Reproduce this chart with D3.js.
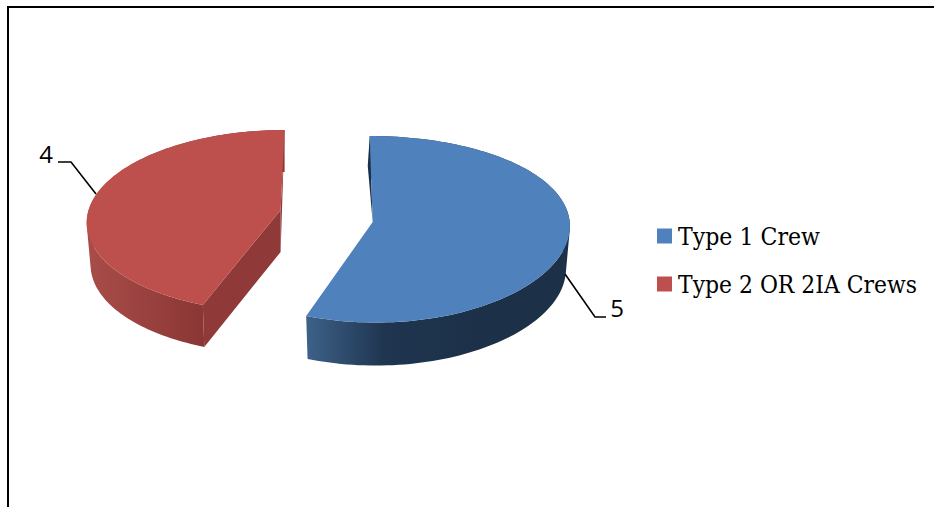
<!DOCTYPE html>
<html><head><meta charset="utf-8">
<script src="https://cdn.jsdelivr.net/npm/d3@7"></script>
<style>html,body{margin:0;padding:0;background:#fff}svg{display:block}</style>
</head><body><svg id="c" width="934" height="507"></svg>
<script>
const categories = ["Type 1 Crew", "Type 2 OR 2IA Crews"];
const values = [5, 4];
const colors = ["#4f81bd", "#bd4f4d"];

const layouts = [
  {cx:372.7, cy:222, rx:197, ry:92.7, k:0.078, kx:0.03, shear:3, depth:43,
   wallStops:[[0,"#3d6288"],[0.45,"#1f3550"],[1,"#1c3148"]], wallX:[306,480], cut:"#1c3148"},
  {cx:280.6, cy:210, rx:192, ry:89.6, k:0.12, kx:0.12, shear:-4, depth:42,
   wallStops:[[0,"#a84c49"],[1,"#8a3634"]], wallX:[90,205], cut:"#8f3a38"}
];
const bottomScale = 0.98;
const svg = d3.select("#c");
const defs = svg.append("defs");

// frame
svg.append("path").attr("d","M8,507V7H934").attr("fill","none").attr("stroke","#000").attr("stroke-width",2);

const arcs = d3.pie().value(d=>d).sort(null)(values);
const line = d3.line();

function project(L, a, r, bottom){
  const u = r*Math.sin(a), v = -r*Math.cos(a), s = 1/(1-L.k*v), sx = 1/(1-L.kx*v);
  const sc = bottom ? bottomScale : 1;
  return [L.cx + L.rx*u*sx*sc + L.shear*v, L.cy + L.ry*v*s + (bottom?L.depth:0)];
}

// draw red then blue
[1,0].forEach(i=>{
  const A = arcs[i], L = layouts[i];
  const as = d3.range(0,121).map(t=>A.startAngle+(A.endAngle-A.startAngle)*t/120);
  const top = as.map(a=>project(L,a,1,false));
  const bot = as.map(a=>project(L,a,1,true));
  const apex = project(L,0,0,false), apexB = project(L,0,0,true);

  const g = defs.append("linearGradient").attr("id","w"+i).attr("gradientUnits","userSpaceOnUse")
    .attr("x1",L.wallX[0]).attr("x2",L.wallX[1]).attr("y1",0).attr("y2",0);
  L.wallStops.forEach(s=>g.append("stop").attr("offset",s[0]).attr("stop-color",s[1]));

  // outer wall: swept quads in one path, so the side silhouette stays straight without seams
  const wall = d3.range(120).map(t=>{
    const q = [top[t],top[t+1],bot[t+1],bot[t]];
    const cross = (q[1][0]-q[0][0])*(q[3][1]-q[0][1])-(q[1][1]-q[0][1])*(q[3][0]-q[0][0]);
    return line(cross<0 ? q.slice().reverse() : q)+"Z";
  }).join("");
  svg.append("path").attr("d",wall).attr("fill",`url(#w${i})`);
  // cut faces
  if(i===1){
    const p0 = project(L,A.startAngle,1,false), p1 = project(L,A.startAngle,1,true);
    svg.append("path").attr("d",line([apex,p0,p1,apexB])+"Z").attr("fill",L.cut);
    const q = project(L,A.endAngle,1,false);
    svg.append("path").attr("d",line([q,apex,apexB])+"Z").attr("fill",L.cut);
  } else {
    const q = project(L,A.startAngle,1,false);
    const mid = [q[0]+(apex[0]-q[0])*0.35-3, q[1]+(apex[1]-q[1])*0.35];
    svg.append("path").attr("d",line([q,mid,apex])+"Z").attr("fill","#1c3148");
  }
  // top
  svg.append("path").attr("d",line([apex].concat(top))+"Z").attr("fill",colors[i]);
});

// leader lines
const labelLeaders = [
  {text:values[1], pts:[[58,162],[71,162],[96,194]], tx:46, ty:163},
  {text:values[0], pts:[[606,317],[595,317],[565,274]], tx:617, ty:317}
];
labelLeaders.forEach(d=>{
  svg.append("path").attr("d",line(d.pts)).attr("fill","none").attr("stroke","#000").attr("stroke-width",1.6);
  svg.append("text").attr("x",d.tx).attr("y",d.ty).attr("text-anchor","middle")
    .attr("font-family","'Open Sans',sans-serif").attr("font-size",24).attr("fill","#000").text(d.text);
});

// legend
categories.forEach((c,i)=>{
  const y = 236 + i*48;
  svg.append("rect").attr("x",657).attr("y",y-7.5).attr("width",15).attr("height",15).attr("fill",colors[i]);
  svg.append("text").attr("x",678).attr("y",y+9).attr("font-family","'DejaVu Serif Condensed','DejaVu Serif',serif")
    .attr("font-size",24).attr("fill","#000").attr("textLength",i?239:142).attr("lengthAdjust","spacingAndGlyphs").text(c);
});
</script></body></html>
